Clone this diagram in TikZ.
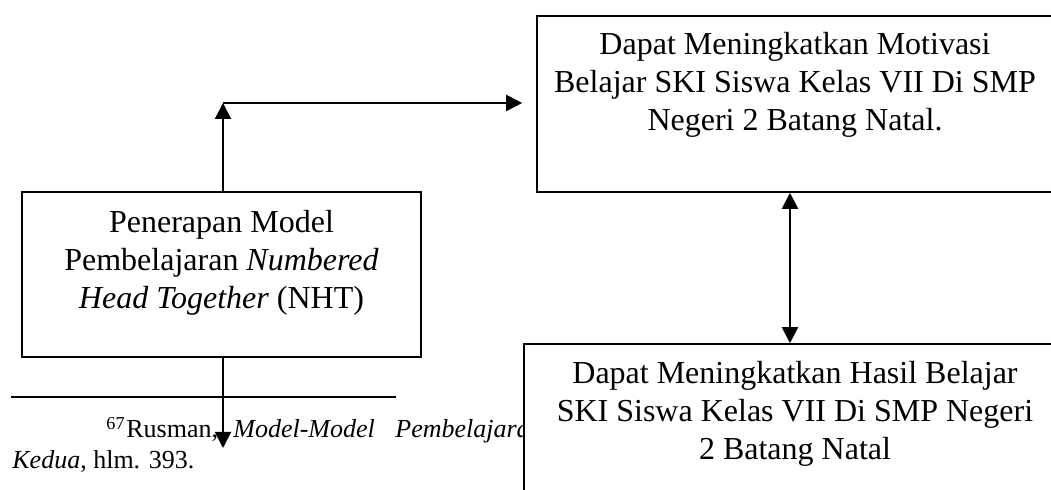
\documentclass[tikz,border=0pt]{standalone}
\usepackage{fontspec}
\setmainfont{Liberation Serif}
\usetikzlibrary{arrows.meta,fit}
\begin{document}
\begin{tikzpicture}[x=0.5pt,y=-0.5pt,
  box/.style={draw=black,line width=0.8pt,fill=white,inner sep=0pt,rectangle},
  txt/.style={align=center,inner sep=0pt,font=\fontsize{16}{19}\selectfont},
  fn/.style={inner sep=0pt,font=\fontsize{13}{15}\selectfont},
  arr/.style={line width=1pt,-{Triangle[length=8pt,width=8pt]}},
  arrboth/.style={line width=1pt,{Triangle[length=8pt,width=8pt]}-{Triangle[length=8pt,width=8pt]}}]
\useasboundingbox (0,0) rectangle (1051,490);
\clip (0,0) rectangle (1051,490);
% footnote
\draw[line width=0.75pt] (11,397) coordinate (r1) -- (396,397) coordinate (r2);
\node[fn,anchor=base east] (f0) at (126,438) {\textsuperscript{67}};
\node[fn,anchor=base west] (f1) at (126,438) {Rusman,};
\node[fn,anchor=base west] (f2) at (233,438) {\textit{Model-Model}};
\node[fn,anchor=base west] (f3) at (395,438) {\textit{Pembelajaran}};
\node[fn,anchor=base west] (f4) at (12,469) {\textit{Kedua}, hlm. 393.};
% boxes
\node[box,fit={(22,192) (421,357)}] (nht) {};
\node[box,fit={(537,16) (1080,192)}] (mot) {};
\node[box,fit={(524,344) (1080,520)}] (has) {};
\node[txt,anchor=base] (tnht) at (221.5,309) {Penerapan Model\\Pembelajaran \textit{Numbered}\\\textit{Head Together} (NHT)};
\node[txt,anchor=base] (tmot) at (795,131) {Dapat Meningkatkan Motivasi\\Belajar SKI Siswa Kelas VII Di SMP\\Negeri 2 Batang Natal.};
\node[txt,anchor=base] (thas) at (795,460) {Dapat Meningkatkan Hasil Belajar\\SKI Siswa Kelas VII Di SMP Negeri\\2 Batang Natal};
% connectors
\coordinate (c) at (223,103);
\coordinate (d) at (223,448);
\coordinate (m) at (790,0);
\draw[arr] (c |- nht.north) -- (c);
\draw[arr,shorten >=7pt] (c) -- (c -| mot.west);
\draw[arr] (c |- nht.south) -- (d);
\draw[arrboth] (m |- mot.south) -- (m |- has.north);
\end{tikzpicture}
\end{document}
